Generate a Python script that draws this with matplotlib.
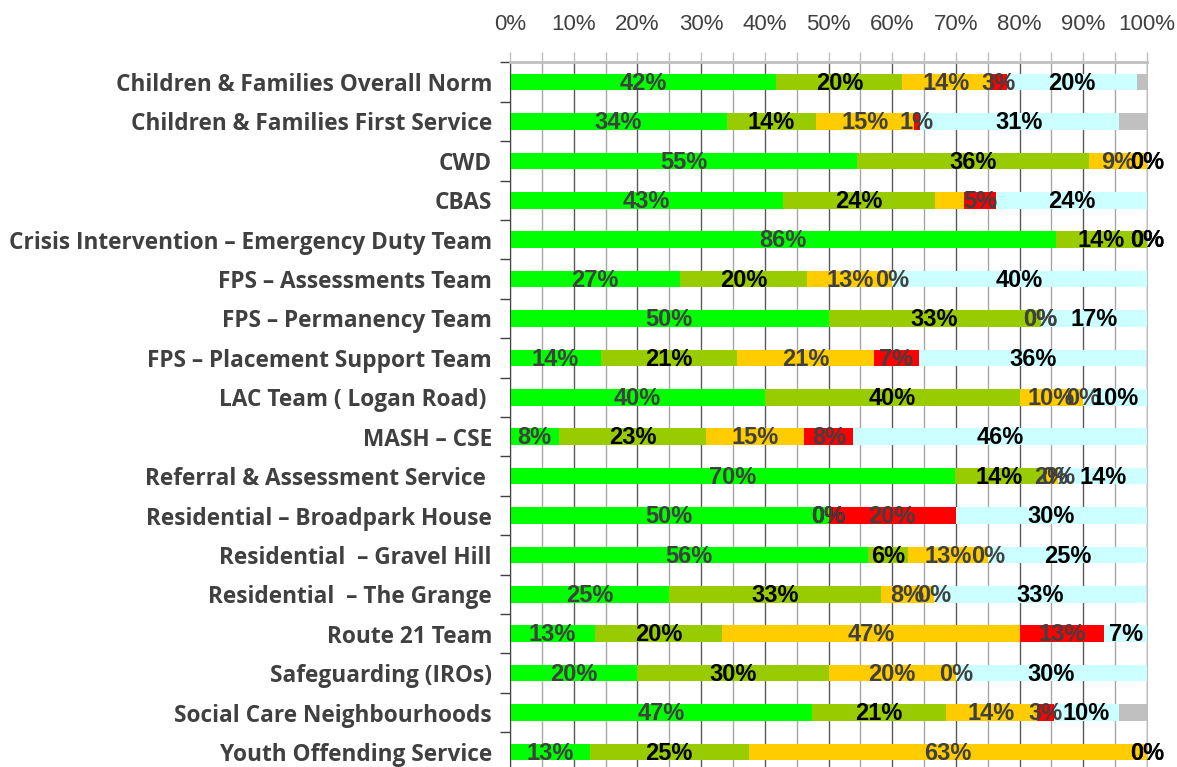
import numpy as np
import matplotlib.pyplot as plt
from matplotlib.ticker import MultipleLocator

categories = [
    "Children & Families Overall Norm",
    "Children & Families First Service",
    "CWD",
    "CBAS",
    "Crisis Intervention \u2013 Emergency Duty Team",
    "FPS \u2013 Assessments Team",
    "FPS \u2013 Permanency Team",
    "FPS \u2013 Placement Support Team",
    "LAC Team ( Logan Road) ",
    "MASH \u2013 CSE",
    "Referral & Assessment Service ",
    "Residential \u2013 Broadpark House",
    "Residential  \u2013 Gravel Hill",
    "Residential  \u2013 The Grange",
    "Route 21 Team",
    "Safeguarding (IROs)",
    "Social Care Neighbourhoods",
    "Youth Offending Service",
]

# percentages per band
green = [41.8, 34.0, 54.5, 42.8, 85.7, 26.7, 50.0, 14.3, 40.0, 7.7, 69.8, 50.0, 56.25, 25.0, 13.3, 20.0, 47.4, 12.5]
olive = [19.8, 14.0, 36.4, 23.9, 14.3, 20.0, 33.3, 21.4, 40.0, 23.1, 14.0, 0.0, 6.25, 33.3, 20.0, 30.0, 21.0, 25.0]
amber = [13.8, 15.4, 9.1, 4.6, 0.0, 13.3, 0.0, 21.4, 10.0, 15.4, 2.3, 0.0, 12.5, 8.3, 46.7, 20.0, 14.4, 62.5]
red = [2.6, 1.0, 0.0, 5.0, 0.0, 0.0, 0.0, 7.1, 0.0, 7.7, 0.0, 20.0, 0.0, 0.0, 13.3, 0.0, 2.6, 0.0]
cyan = [20.4, 31.2, 0.0, 23.7, 0.0, 40.0, 16.7, 35.7, 10.0, 46.2, 14.0, 30.0, 25.0, 33.3, 6.7, 30.0, 10.2, 0.0]
grey = [1.6, 4.4, 0, 0, 0, 0, 0, 0, 0, 0, 0, 0, 0, 0, 0, 0, 4.4, 0]

x_ticks = [0, 10, 20, 30, 40, 50, 60, 70, 80, 90, 100]

# (series, bar colour, label colour or None)
series = [
    (green, "#00FF00", "#404040"),
    (olive, "#99CC00", "#000000"),
    (amber, "#FFCC00", "#404040"),
    (red, "#FF0000", "#404040"),
    (cyan, "#CCFFFF", "#000000"),
    (grey, "#C0C0C0", None),
]
hidden_labels = [(3, 2)]  # CBAS amber label not shown

lab_font = ["Liberation Sans", "DejaVu Sans"]

fig = plt.figure(figsize=(11.77, 7.67), dpi=100)
ax = fig.add_axes([510 / 1177, -4.7 / 767, 637 / 1177, 709.4 / 767])

n = len(categories)
y = np.arange(n)
left = np.zeros(n)
for k, (vals, col, tcol) in enumerate(series):
    vals = np.array(vals, dtype=float)
    ax.barh(y, vals, left=left, height=0.42, color=col, zorder=2)
    if tcol is not None:
        for i in range(n):
            if (i, k) in hidden_labels:
                continue
            txt = "%d%%" % int(vals[i] + 0.5)
            ax.text(left[i] + vals[i] / 2, y[i] + 0.03, txt, ha="center", va="center",
                    color=tcol, fontsize=17, fontweight="bold",
                    family=lab_font, zorder=5)
    left = left + vals

ax.set_xlim(0, 100)
ax.set_ylim(n - 0.5, -0.5)

ax.xaxis.tick_top()
ax.set_xticks(x_ticks)
ax.set_xticklabels(["%d%%" % t for t in x_ticks])
ax.xaxis.set_minor_locator(MultipleLocator(5))
ax.tick_params(axis="x", which="both", direction="out", length=7,
               color="#BFBFBF", width=1)
ax.tick_params(axis="x", which="major", labelsize=16, labelcolor="#404040", pad=13)
for lbl in ax.get_xticklabels():
    lbl.set_family(["Liberation Sans", "DejaVu Sans"])

ax.grid(axis="x", which="major", color="#595959", linewidth=1, zorder=0)
ax.grid(axis="x", which="minor", color="#A6A6A6", linewidth=1, zorder=0)
ax.set_axisbelow(True)

ax.set_yticks(y)
ax.set_yticklabels(categories)
ax.set_yticks(np.arange(n + 1) - 0.5, minor=True)
ax.tick_params(axis="y", which="major", length=0, pad=13,
               labelsize=16.3, labelcolor="#404040")
ax.tick_params(axis="y", which="minor", length=7, color="#404040", width=1)
for lbl in ax.get_yticklabels():
    lbl.set_fontweight("bold")
    lbl.set_family(["Open Sans", "DejaVu Sans"])

ax.spines["top"].set_color("#BFBFBF")
ax.spines["top"].set_linewidth(2)
ax.spines["right"].set_color("#BFBFBF")
ax.spines["left"].set_color("#404040")
ax.spines["bottom"].set_visible(False)

fig.savefig("out.png", dpi=100)
